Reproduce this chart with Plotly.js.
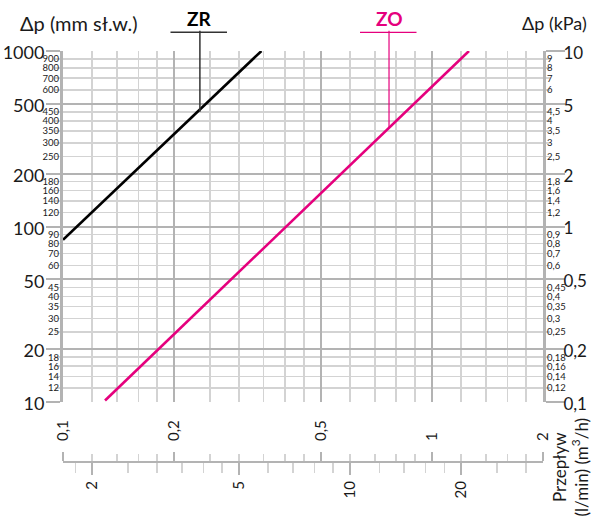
<!DOCTYPE html>
<html>
<head>
<meta charset="utf-8">
<script src="https://cdn.plot.ly/plotly-3.0.1.min.js"></script>
<style>html,body{margin:0;padding:0;background:#fff}#chart{width:592px;height:521px}</style>
</head>
<body>
<div id="chart"></div>
<script>
// ---- data ----
const flowZR = [0.1, 0.345];      // m3/h
const dpZR   = [84, 1000];        // mm H2O
const flowZO = [0.13, 1.26];      // m3/h
const dpZO   = [10.2, 1000];      // mm H2O
const seriesNames = ['ZR', 'ZO'];
const calloutFlow = [0.235, 0.765];
const calloutDp   = [450, 365];

// ---- tick values / labels ----
const flowMajor = [0.1, 0.2, 0.5, 1, 2];
const flowMajorText = ['0,1', '0,2', '0,5', '1', '2'];
const flowMinor = [0.12, 0.14, 0.16, 0.18, 0.25, 0.3, 0.35, 0.4, 0.45, 0.6, 0.7, 0.8, 0.9, 1.2, 1.4, 1.6, 1.8];
const lpmMajor = [2, 5, 10, 20];
const lpmMajorText = ['2', '5', '10', '20'];
const lpmMinor = [1.8, 2.5, 3, 3.5, 4, 4.5, 6, 7, 8, 9, 12, 14, 16, 18, 25, 30];
const dpMajor = [10, 20, 50, 100, 200, 500, 1000];
const dpMajorText = ['10', '20', '50', '100', '200', '500', '1000'];
const dpMinor = [12, 14, 16, 18, 25, 30, 35, 40, 45, 60, 70, 80, 90, 120, 140, 160, 180, 250, 300, 350, 400, 450, 600, 700, 800, 900];
const dpMinorText = ['12', '14', '16', '18', '25', '30', '35', '40', '45', '60', '70', '80', '90', '120', '140', '160', '180', '250', '300', '350', '400', '450', '600', '700', '800', '900'];
const kpaMajor = [0.1, 0.2, 0.5, 1, 2, 5, 10];
const kpaMajorText = ['0,1', '0,2', '0,5', '1', '2', '5', '10'];
const kpaMinor = [0.12, 0.14, 0.16, 0.18, 0.25, 0.3, 0.35, 0.4, 0.45, 0.6, 0.7, 0.8, 0.9, 1.2, 1.4, 1.6, 1.8, 2.5, 3, 3.5, 4, 4.5, 6, 7, 8, 9];
const kpaMinorText = ['0,12', '0,14', '0,16', '0,18', '0,25', '0,3', '0,35', '0,4', '0,45', '0,6', '0,7', '0,8', '0,9', '1,2', '1,4', '1,6', '1,8', '2,5', '3', '3,5', '4', '4,5', '6', '7', '8', '9'];

const FONT = 'Lato, "Open Sans", sans-serif';
const TXT = '#1a1a1a';
const GMAJ = '#b3b3b3';
const GMIN = '#d3d3d3';
const PINK = '#e5007d';
const LPM_PER_M3H = 1000 / 60;

const flowRange = [Math.log10(flowMajor[0]), Math.log10(flowMajor[flowMajor.length - 1])];
const dpRange = [Math.log10(dpMajor[0]), Math.log10(dpMajor[dpMajor.length - 1])];
const kpaRange = [Math.log10(kpaMajor[0]), Math.log10(kpaMajor[kpaMajor.length - 1])];
const lpmRange = [Math.log10(flowMajor[0] * LPM_PER_M3H), Math.log10(flowMajor[flowMajor.length - 1] * LPM_PER_M3H)];

const traces = [
  {x: flowZR, y: dpZR, xaxis: 'x', yaxis: 'y', mode: 'lines', name: seriesNames[0],
   line: {color: '#000000', width: 2.6}},
  {x: flowZO, y: dpZO, xaxis: 'x', yaxis: 'y', mode: 'lines', name: seriesNames[1],
   line: {color: PINK, width: 2.6}},
  // empty traces so that every helper axis gets its subplot and is drawn
  {x: [], y: [], xaxis: 'x2', yaxis: 'y', mode: 'lines', hoverinfo: 'skip'},
  {x: [], y: [], xaxis: 'x3', yaxis: 'y', mode: 'lines', hoverinfo: 'skip'},
  {x: [], y: [], xaxis: 'x', yaxis: 'y2', mode: 'lines', hoverinfo: 'skip'},
  {x: [], y: [], xaxis: 'x', yaxis: 'y3', mode: 'lines', hoverinfo: 'skip'},
  {x: [], y: [], xaxis: 'x', yaxis: 'y4', mode: 'lines', hoverinfo: 'skip'}
];

const W = 592, H = 521, ML = 63, MR = 49, MT = 51, MB = 51;
const paperH = H - MT - MB;
const py = p => (H - MB - p) / paperH;   // pixel y -> paper y
const px = p => (p - ML) / (W - ML - MR);

const layout = {
  width: W, height: H,
  margin: {l: ML, r: MR, t: MT, b: MB, pad: 0},
  paper_bgcolor: '#fff', plot_bgcolor: '#fff',
  showlegend: false,
  font: {family: FONT, color: TXT},
  xaxis: {
    type: 'log', range: flowRange, domain: [0, 1], anchor: 'y', autorange: false,
    tickmode: 'array', tickvals: flowMajor, showticklabels: false, ticks: '',
    showgrid: true, gridcolor: GMAJ, gridwidth: 2, zeroline: false, showline: false,
    minor: {tickmode: 'array', tickvals: flowMinor, showgrid: true, gridcolor: GMIN, gridwidth: 1.5, ticks: ''}
  },
  xaxis2: {
    type: 'log', range: flowRange, autorange: false, overlaying: 'x', anchor: 'free', position: py(462), side: 'top',
    tickmode: 'array', tickvals: flowMajor, ticktext: flowMajorText, tickangle: -90,
    ticks: 'outside', ticklen: 9, tickwidth: 2, tickcolor: GMAJ,
    showline: true, linecolor: GMAJ, linewidth: 2, showgrid: false, zeroline: false,
    ticklabelstandoff: 8,
    tickfont: {size: 15, color: TXT, family: FONT},
    minor: {tickmode: 'array', tickvals: flowMinor, ticks: 'outside', ticklen: 7, tickwidth: 1.5, tickcolor: GMIN, showgrid: false}
  },
  xaxis3: {
    type: 'log', range: lpmRange, autorange: false, overlaying: 'x', anchor: 'free', position: py(462), side: 'bottom',
    tickmode: 'array', tickvals: lpmMajor, ticktext: lpmMajorText, tickangle: -90,
    ticks: 'outside', ticklen: 12, tickwidth: 2, tickcolor: GMAJ,
    showline: false, showgrid: false, zeroline: false,
    ticklabelstandoff: 0,
    tickfont: {size: 15, color: TXT, family: FONT},
    minor: {tickmode: 'array', tickvals: lpmMinor, ticks: 'outside', ticklen: 10, tickwidth: 1.5, tickcolor: GMIN, showgrid: false}
  },
  yaxis: {
    type: 'log', range: dpRange, autorange: false, domain: [py(402), 1], anchor: 'x', side: 'left',
    tickmode: 'array', tickvals: dpMajor, ticktext: dpMajorText,
    ticks: 'outside', ticklen: 14, tickwidth: 2, tickcolor: GMAJ,
    showline: true, linecolor: GMAJ, linewidth: 3, zeroline: false,
    showgrid: true, gridcolor: GMAJ, gridwidth: 2,
    tickfont: {size: 18, color: TXT, family: FONT},
    ticklabelstandoff: -2, ticklabelshift: 2,
    minor: {tickmode: 'array', tickvals: dpMinor, ticks: 'outside', ticklen: 5, tickwidth: 1.5, tickcolor: GMIN,
            showgrid: true, gridcolor: GMIN, gridwidth: 1.5}
  },
  yaxis2: {
    type: 'log', range: dpRange, autorange: false, overlaying: 'y', anchor: 'x', side: 'left',
    tickmode: 'array', tickvals: dpMinor, ticktext: dpMinorText, ticks: '',
    showgrid: false, showline: false, zeroline: false,
    tickfont: {size: 9.5, color: TXT, family: FONT},
    ticklabelstandoff: 3
  },
  yaxis3: {
    type: 'log', range: kpaRange, autorange: false, overlaying: 'y', anchor: 'x', side: 'right',
    tickmode: 'array', tickvals: kpaMajor, ticktext: kpaMajorText,
    ticks: 'outside', ticklen: 19, tickwidth: 2, tickcolor: GMAJ,
    showline: true, linecolor: GMAJ, linewidth: 3, showgrid: false, zeroline: false,
    tickfont: {size: 17, color: TXT, family: FONT},
    ticklabelstandoff: -5, ticklabelshift: 2,
    minor: {tickmode: 'array', tickvals: kpaMinor, ticks: 'outside', ticklen: 4, tickwidth: 1.5, tickcolor: GMIN, showgrid: false}
  },
  yaxis4: {
    type: 'log', range: kpaRange, autorange: false, overlaying: 'y', anchor: 'x', side: 'right',
    tickmode: 'array', tickvals: kpaMinor, ticktext: kpaMinorText, ticks: '',
    showgrid: false, showline: false, zeroline: false,
    tickfont: {size: 9.5, color: TXT, family: FONT},
    ticklabelstandoff: 3
  },
  annotations: [
    {xref: 'paper', yref: 'paper', x: px(18), y: py(23), xanchor: 'left', yanchor: 'middle',
     text: 'Δp (mm sł.w.)', showarrow: false, font: {size: 20, color: TXT, family: FONT}},
    {xref: 'paper', yref: 'paper', x: px(589), y: py(23), xanchor: 'right', yanchor: 'middle',
     text: 'Δp (kPa)', showarrow: false, font: {size: 18, color: TXT, family: FONT}},
    {xref: 'paper', yref: 'paper', x: px(569.5), y: py(467), xanchor: 'center', yanchor: 'middle',
     text: 'Przepływ<br>(l/min) (m<sup>3</sup>/h)', textangle: -90, showarrow: false,
     font: {size: 17, color: TXT, family: FONT}},
    {xref: 'x', yref: 'y', x: Math.log10(calloutFlow[0]), y: Math.log10(calloutDp[0]),
     text: '<b>' + seriesNames[0] + '</b>', font: {size: 19, color: '#000', family: FONT},
     showarrow: true, arrowhead: 0, arrowwidth: 1.5, arrowcolor: '#333', axref: 'pixel', ayref: 'pixel', ax: 0, ay: -93,
     standoff: 0, startstandoff: 0, borderpad: 0},
    {xref: 'x', yref: 'y', x: Math.log10(calloutFlow[1]), y: Math.log10(calloutDp[1]),
     text: '<b>' + seriesNames[1] + '</b>', font: {size: 19, color: PINK, family: FONT},
     showarrow: true, arrowhead: 0, arrowwidth: 1.2, arrowcolor: PINK, axref: 'pixel', ayref: 'pixel', ax: 0, ay: -109,
     standoff: 0, startstandoff: 0, borderpad: 0}
  ],
  shapes: [
    {type: 'line', xref: 'paper', yref: 'paper', x0: px(170.5), x1: px(227),
     y0: py(32.3), y1: py(32.3), line: {color: '#333', width: 1.5}},
    {type: 'line', xref: 'paper', yref: 'paper', x0: px(360), x1: px(416.5),
     y0: py(32.3), y1: py(32.3), line: {color: PINK, width: 1.2}}
  ]
};

Plotly.newPlot('chart', traces, layout, {staticPlot: true, displayModeBar: false});
</script>
</body>
</html>
